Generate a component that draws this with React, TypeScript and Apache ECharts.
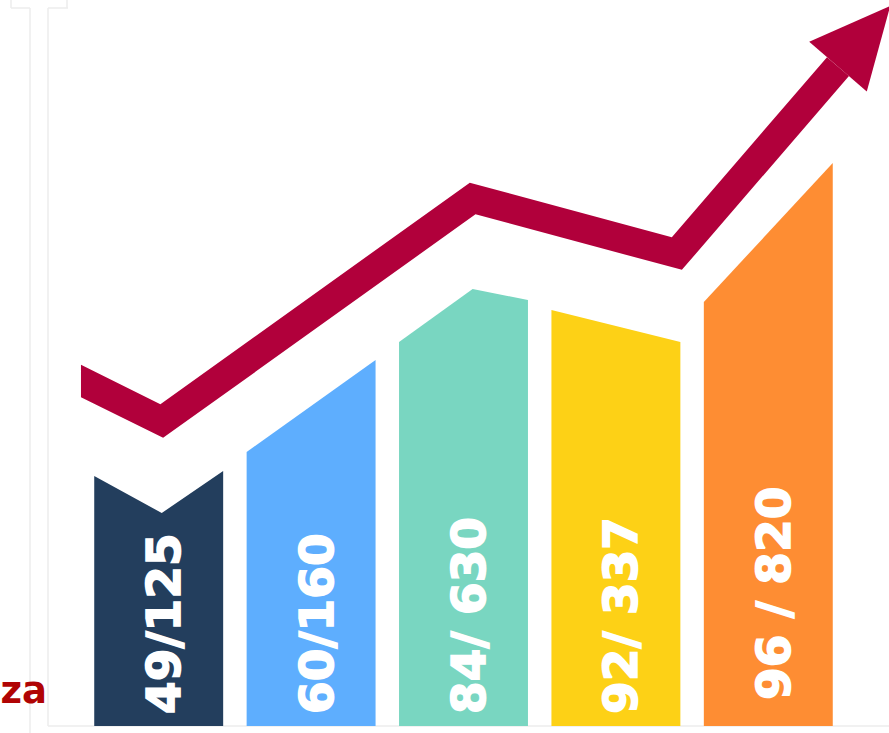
import React, { useEffect, useRef } from "react";
import * as echarts from "echarts";

// ---- data ----
const categories = ["49/125", "60/160", "84/ 630", "92/ 337", "96 / 820"];
const barTopLeft = [250, 274, 384, 416, 424];
const barTopRight = [255, 366, 426, 384, 563];
const barTopVertex: (number | null)[] = [213, null, 437, null, null];
const trendX = [-0.51, 0.02, 2.06, 3.4, 4.8];
const trendY = [345, 305, 527.5, 472.5, 720];
const cutText = "za";

const barColors = ["#233e5d", "#5eaefe", "#79d6c1", "#fdd116", "#fe8d33"];
const arrowColor = "#b1003b";
const frameColor = "#ececec";

export default function App() {
  const ref = useRef<HTMLDivElement>(null);
  useEffect(() => {
    if (!ref.current) return;
    const chart = echarts.init(ref.current, undefined, { renderer: "svg" });
    const half = 0.423;
    const labelLift = [0, 0, 0, 0, 14];

    const option: any = {
      animation: false,
      grid: { left: 82.5, right: 44.5, top: 0, bottom: 7 },
      xAxis: { type: "value", min: -0.5, max: 4.5, show: false },
      yAxis: { type: "value", min: 0, max: 726, show: false },
      graphic: [
        { type: "line", shape: { x1: 11, y1: 0, x2: 11, y2: 8 }, style: { stroke: frameColor, lineWidth: 1.5 } },
        { type: "line", shape: { x1: 11, y1: 8, x2: 30, y2: 8 }, style: { stroke: frameColor, lineWidth: 1.5 } },
        { type: "line", shape: { x1: 30, y1: 8, x2: 30, y2: 733 }, style: { stroke: frameColor, lineWidth: 1.5 } },
        { type: "line", shape: { x1: 48, y1: 8, x2: 68, y2: 8 }, style: { stroke: frameColor, lineWidth: 1.5 } },
        { type: "line", shape: { x1: 67, y1: 0, x2: 67, y2: 8 }, style: { stroke: frameColor, lineWidth: 1.5 } },
        { type: "line", shape: { x1: 48, y1: 8, x2: 48, y2: 726 }, style: { stroke: frameColor, lineWidth: 1.5 } },
        { type: "line", shape: { x1: 48, y1: 726, x2: 889, y2: 726 }, style: { stroke: frameColor, lineWidth: 1.5 } },
        {
          type: "text",
          x: 47,
          y: 690,
          style: {
            text: cutText,
            fill: "#b00404",
            font: 'bold 37px "DejaVu Sans"',
            align: "right",
            verticalAlign: "middle",
          },
        },
      ],
      series: [
        {
          type: "custom",
          clip: false,
          data: categories.map((c, i) => [i, barTopLeft[i], barTopRight[i]]),
          renderItem: (params: any, api: any) => {
            const i = params.dataIndex;
            const xl = i - half;
            const xr = i + half;
            const pts: number[][] = [api.coord([xl, 0]), api.coord([xl, barTopLeft[i]])];
            const v = barTopVertex[i];
            if (v != null) {
              const vx = trendX.find((x) => x > xl && x < xr);
              if (vx != null) pts.push(api.coord([vx, v]));
            }
            pts.push(api.coord([xr, barTopRight[i]]), api.coord([xr, 0]));
            const base = api.coord([i, 0]);
            return {
              type: "group",
              children: [
                { type: "polygon", shape: { points: pts }, style: { fill: barColors[i] } },
                {
                  type: "text",
                  x: base[0] + 5,
                  y: base[1] - 12 - labelLift[i],
                  rotation: Math.PI / 2,
                  style: {
                    text: categories[i],
                    fill: "#ffffff",
                    stroke: "#ffffff",
                    lineWidth: 1.6,
                    font: 'bold 47px "DejaVu Sans"',
                    align: "left",
                    verticalAlign: "middle",
                  },
                },
              ],
            };
          },
        },
        {
          type: "custom",
          clip: false,
          data: [[trendX[0], trendY[0]]],
          renderItem: (params: any, api: any) => {
            const P: number[][] = trendX.map((x, k) => api.coord([x, trendY[k]]));
            const tip = P[P.length - 1];
            const prev = P[P.length - 2];
            let dx = tip[0] - prev[0];
            let dy = tip[1] - prev[1];
            const L = Math.hypot(dx, dy);
            dx /= L;
            dy /= L;
            const headLen = 80;
            const headHalf = 38;
            const hw = 14.5;
            const B = [tip[0] - dx * headLen, tip[1] - dy * headLen];
            const pts = [...P.slice(0, -1), B];
            const dirs: number[][] = [];
            const norms: number[][] = [];
            for (let s = 0; s < pts.length - 1; s++) {
              const ex = pts[s + 1][0] - pts[s][0];
              const ey = pts[s + 1][1] - pts[s][1];
              const l = Math.hypot(ex, ey);
              dirs.push([ex / l, ey / l]);
              norms.push([-ey / l, ex / l]);
            }
            const side = (sg: number) => {
              const out: number[][] = [];
              const d0 = dirs[0];
              const n0 = norms[0];
              const t = (-sg * n0[0] * hw) / d0[0];
              out.push([pts[0][0] + sg * n0[0] * hw + t * d0[0], pts[0][1] + sg * n0[1] * hw + t * d0[1]]);
              for (let k = 1; k < pts.length - 1; k++) {
                const a = norms[k - 1];
                const b = norms[k];
                let mx = a[0] + b[0];
                let my = a[1] + b[1];
                const ml = Math.hypot(mx, my);
                mx /= ml;
                my /= ml;
                const len = hw / (mx * b[0] + my * b[1]);
                out.push([pts[k][0] + sg * mx * len, pts[k][1] + sg * my * len]);
              }
              const nl = norms[norms.length - 1];
              const last = pts[pts.length - 1];
              out.push([last[0] + sg * nl[0] * hw, last[1] + sg * nl[1] * hw]);
              return out;
            };
            const shaft = [...side(1), ...side(-1).reverse()];
            const nl = [-dy, dx];
            const head = [
              [B[0] + nl[0] * headHalf, B[1] + nl[1] * headHalf],
              tip,
              [B[0] - nl[0] * headHalf, B[1] - nl[1] * headHalf],
            ];
            return {
              type: "group",
              children: [
                { type: "polygon", shape: { points: shaft }, style: { fill: arrowColor } },
                { type: "polygon", shape: { points: head }, style: { fill: arrowColor } },
              ],
            };
          },
        },
      ],
    };
    chart.setOption(option);
    return () => chart.dispose();
  }, []);
  return (
    <div
      ref={ref}
      style={{ position: "fixed", left: 0, top: 0, width: 889, height: 733, background: "#ffffff" }}
    />
  );
}
